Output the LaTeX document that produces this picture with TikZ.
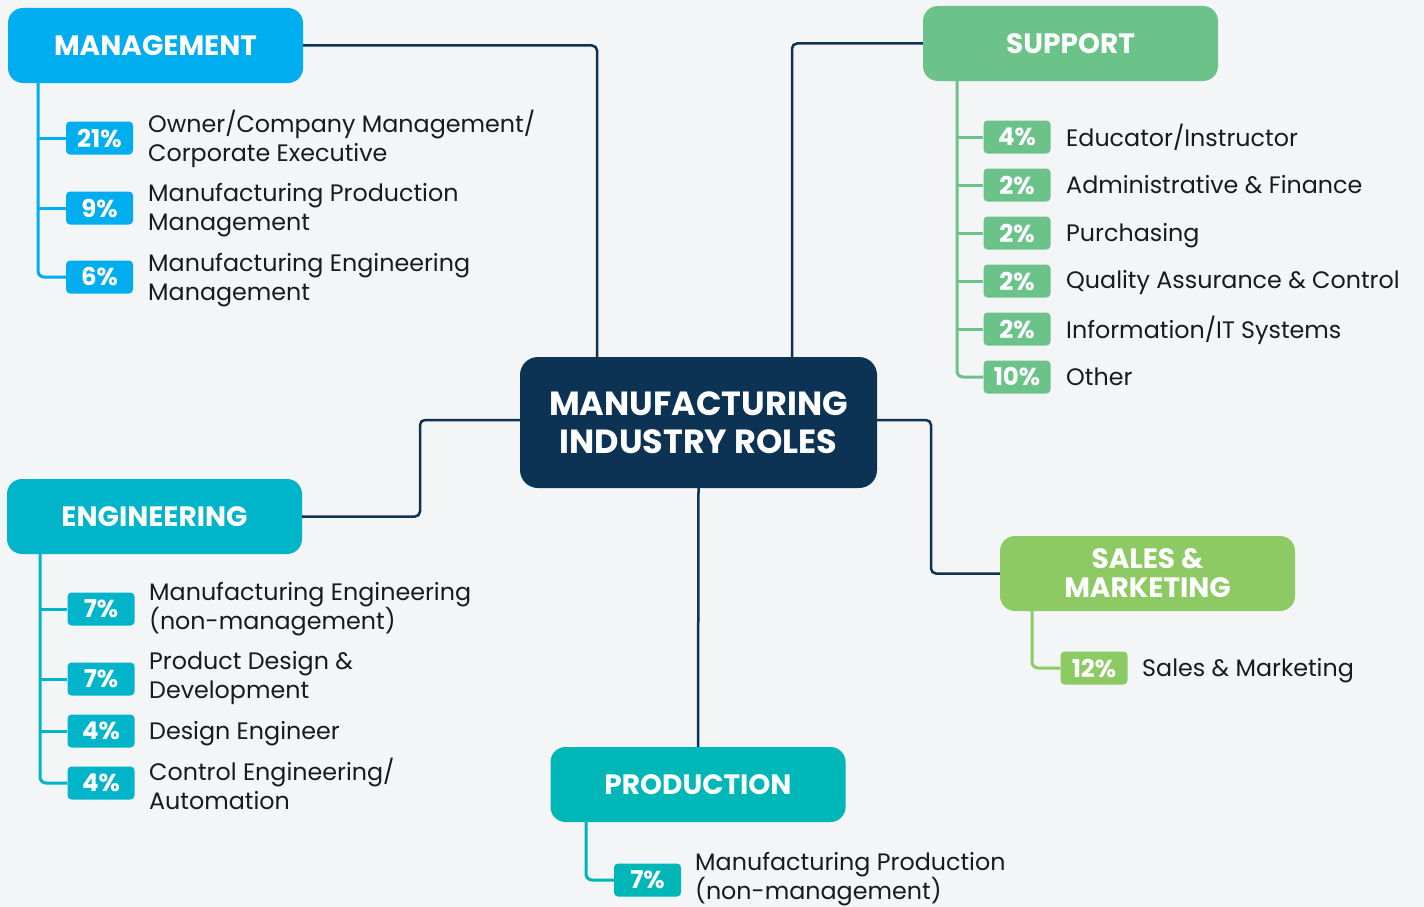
\documentclass[tikz,border=0pt]{standalone}
\usepackage{fontspec}
\setmainfont{Poppins}
\usetikzlibrary{positioning}

\definecolor{bgcol}{HTML}{F4F5F7}
\definecolor{navy}{HTML}{0C3254}
\definecolor{mgmtcol}{HTML}{00AEEF}
\definecolor{supcol}{HTML}{6CC38A}
\definecolor{engcol}{HTML}{00B4CA}
\definecolor{prodcol}{HTML}{00B7B7}
\definecolor{salescol}{HTML}{8ECA63}
\definecolor{txtcol}{HTML}{1A1A1A}

\begin{document}
\begin{tikzpicture}[x=1pt, y=-1pt,
    hubbox/.style={rectangle, rounded corners=18pt, fill=navy, text=white, align=center,
        minimum width=357pt, minimum height=131pt, font=\fontsize{33.5}{38}\selectfont\bfseries},
    groupbox/.style={rectangle, rounded corners=15pt, text=white, align=center,
        minimum width=295pt, minimum height=75pt, font=\fontsize{28}{29}\selectfont\bfseries},
    badge/.style={rectangle, rounded corners=4pt, text=white, minimum width=67pt,
        minimum height=33pt, inner sep=0pt, font=\fontsize{24.5}{26}\selectfont\bfseries},
    itemtext/.style={anchor=west, align=left, inner sep=0pt, text=txtcol,
        font=\fontsize{23.8}{29}\selectfont},
    link/.style={draw=navy, line width=2.5pt, rounded corners=5pt},
    branch/.style={line width=3pt, rounded corners=6pt}]

    % Background
    \fill[bgcol] (0,0) rectangle (1424,907);
    \useasboundingbox (0,0) rectangle (1424,907);

    % Hub and groups
    \node[hubbox] (hub) at (698.5,422.5) {MANUFACTURING\\INDUSTRY ROLES};
    \node[groupbox, fill=mgmtcol] (mgmt) at (155.5,45.5) {MANAGEMENT};
    \node[groupbox, fill=supcol] (sup) at (1070.5,43.5) {SUPPORT};
    \node[groupbox, fill=engcol] (eng) at (154.5,516.5) {ENGINEERING};
    \node[groupbox, fill=prodcol] (prod) at (698,784.5) {PRODUCTION};
    \node[groupbox, fill=salescol] (sales) at (1147.5,573.5) {SALES \&\\MARKETING};

    % Links to the hub
    \coordinate (hm) at (597,357);
    \coordinate (hs) at (792,357);
    \coordinate (he) at (420,420);
    \coordinate (hk) at (931,500);
    \draw[link] (mgmt.east) -| (hm);
    \draw[link] (sup.west) -| (hs);
    \draw[link] (eng.east) -| (he) -- (hub.west |- he);
    \draw[link] (hub.east |- he) -| (hk) |- (sales.west);
    \draw[link] (hub.south) -- (prod.north);

    % Management
    \node[badge, fill=mgmtcol] (m1) at (99.5,138) {21\%};
    \node[badge, fill=mgmtcol] (m2) at (99.5,208) {9\%};
    \node[badge, fill=mgmtcol] (m3) at (99.5,277) {6\%};
    \node[itemtext] (m1t) at (148,139) {Owner/Company Management/\\Corporate Executive};
    \node[itemtext] (m2t) at (148,210) {Manufacturing Production\\Management};
    \node[itemtext] (m3t) at (148,280) {Manufacturing Engineering\\Management};
    \coordinate (ms) at (38,83);
    \draw[branch, mgmtcol] (ms) |- (m3.west);
    \draw[branch, mgmtcol] (ms |- m1) -- (m1.west)
        (ms |- m2) -- (m2.west);

    % Support
    \node[badge, fill=supcol] (s1) at (1017,137) {4\%};
    \node[badge, fill=supcol] (s2) at (1017,185) {2\%};
    \node[badge, fill=supcol] (s3) at (1017,233) {2\%};
    \node[badge, fill=supcol] (s4) at (1017,281) {2\%};
    \node[badge, fill=supcol] (s5) at (1017,329) {2\%};
    \node[badge, fill=supcol] (s6) at (1017,377) {10\%};
    \node[itemtext] (s1t) at (1066,137) {Educator/Instructor};
    \node[itemtext] (s2t) at (1066,185) {Administrative \& Finance};
    \node[itemtext] (s3t) at (1066,236) {Purchasing};
    \node[itemtext] (s4t) at (1066,283) {Quality Assurance \& Control};
    \node[itemtext] (s5t) at (1066,330) {Information/IT Systems};
    \node[itemtext] (s6t) at (1066,377) {Other};
    \coordinate (ss) at (957,81);
    \draw[branch, supcol] (ss) |- (s6.west);
    \draw[branch, supcol] (ss |- s1) -- (s1.west)
        (ss |- s2) -- (s2.west)
        (ss |- s3) -- (s3.west)
        (ss |- s4) -- (s4.west)
        (ss |- s5) -- (s5.west);

    % Engineering
    \node[badge, fill=engcol] (e1) at (101,609) {7\%};
    \node[badge, fill=engcol] (e2) at (101,679) {7\%};
    \node[badge, fill=engcol] (e3) at (101,731) {4\%};
    \node[badge, fill=engcol] (e4) at (101,783) {4\%};
    \node[itemtext] (e1t) at (149,609) {Manufacturing Engineering\\(non-management)};
    \node[itemtext] (e2t) at (149,678) {Product Design \&\\Development};
    \node[itemtext] (e3t) at (149,734) {Design Engineer};
    \node[itemtext] (e4t) at (149,784) {Control Engineering/\\Automation};
    \coordinate (es) at (40,554);
    \draw[branch, engcol] (es) |- (e4.west);
    \draw[branch, engcol] (es |- e1) -- (e1.west)
        (es |- e2) -- (e2.west)
        (es |- e3) -- (e3.west);

    % Production
    \node[badge, fill=prodcol] (p1) at (647.5,880) {7\%};
    \node[itemtext] (p1t) at (695,879) {Manufacturing Production\\(non-management)};
    \coordinate (ps) at (586,822);
    \draw[branch, prodcol] (ps) |- (p1.west);

    % Sales & Marketing
    \node[badge, fill=salescol] (k1) at (1094,668) {12\%};
    \node[itemtext] (k1t) at (1142,671) {Sales \& Marketing};
    \coordinate (ks) at (1032,611);
    \draw[branch, salescol] (ks) |- (k1.west);
\end{tikzpicture}
\end{document}
